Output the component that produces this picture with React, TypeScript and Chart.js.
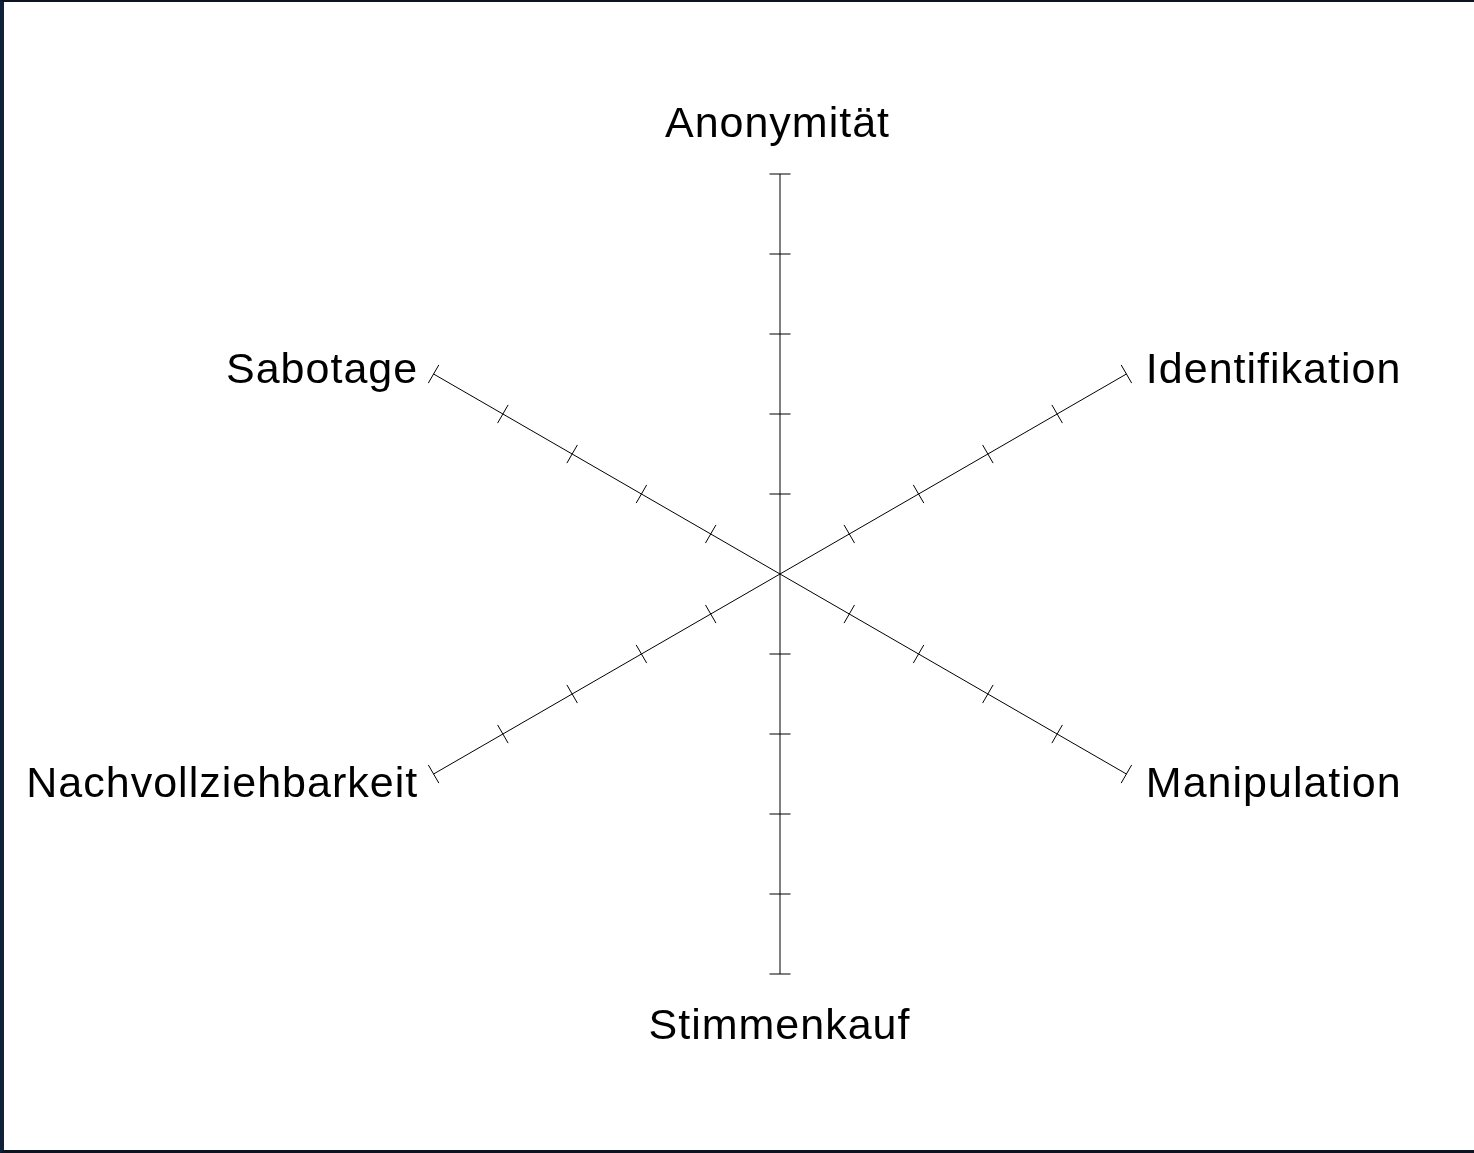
import React, { useEffect, useRef } from "react";
import { Chart, registerables } from "chart.js";

Chart.register(...registerables);

// ---- data ----
const AXIS_LABELS = [
  "Anonymität",
  "Identifikation",
  "Manipulation",
  "Stimmenkauf",
  "Nachvollziehbarkeit",
  "Sabotage",
];
const TICK_VALUES = [1, 2, 3, 4, 5];
const AXIS_MIN = 0;
const AXIS_MAX = 5;
const SERIES_VALUES: number[] = []; // the reference shows no plotted series

// ---- style ----
const W = 1474;
const H = 1153;
const FONT = '43px "Liberation Sans", Arial, Helvetica, sans-serif';
const LETTER_SPACING = 1;
const CAP = 31;
const TICK_HALF = 10.5;

const axisDecorations = {
  id: "axisDecorations",
  afterDraw(chart: any) {
    const scale = chart.scales.r;
    const ctx = chart.ctx as CanvasRenderingContext2D;
    ctx.save();
    ctx.strokeStyle = "#000";
    ctx.lineWidth = 1;
    AXIS_LABELS.forEach((_, i) => {
      const a = scale.getIndexAngle(i) - Math.PI / 2;
      const px = -Math.sin(a);
      const py = Math.cos(a);
      TICK_VALUES.forEach((v) => {
        const p = scale.getPointPositionForValue(i, v);
        ctx.beginPath();
        ctx.moveTo(p.x - px * TICK_HALF, p.y - py * TICK_HALF);
        ctx.lineTo(p.x + px * TICK_HALF, p.y + py * TICK_HALF);
        ctx.stroke();
      });
    });

    ctx.fillStyle = "#000";
    ctx.font = FONT;
    (ctx as any).letterSpacing = LETTER_SPACING + "px";
    ctx.textBaseline = "alphabetic";
    const R = scale.drawingArea;
    AXIS_LABELS.forEach((label, i) => {
      const a = scale.getIndexAngle(i) - Math.PI / 2;
      const c = Math.cos(a);
      const s = Math.sin(a);
      if (Math.abs(c) < 0.01) {
        ctx.textAlign = "center";
        if (s < 0) {
          const p = scale.getPointPosition(i, R + 37);
          ctx.fillText(label, p.x - 3 + LETTER_SPACING / 2, p.y);
        } else {
          const p = scale.getPointPosition(i, R + 34);
          ctx.fillText(label, p.x - 1 + LETTER_SPACING / 2, p.y + CAP);
        }
      } else {
        const px = scale.getPointPosition(i, R + 19).x;
        const py = scale.getPointPosition(i, R + 14).y;
        if (c > 0) {
          ctx.textAlign = "left";
          ctx.fillText(label, px + 3, py + CAP / 2);
        } else {
          ctx.textAlign = "right";
          ctx.fillText(label, px + LETTER_SPACING, py + CAP / 2);
        }
      }
    });
    ctx.restore();
  },
};

export default function App() {
  const canvasRef = useRef<HTMLCanvasElement | null>(null);

  useEffect(() => {
    const canvas = canvasRef.current;
    if (!canvas) return;
    const chart = new Chart(canvas, {
      type: "radar",
      data: {
        labels: AXIS_LABELS,
        datasets: SERIES_VALUES.length
          ? [{ label: "", data: SERIES_VALUES, borderColor: "#000", backgroundColor: "transparent" }]
          : [],
      },
      options: {
        responsive: false,
        animation: false,
        devicePixelRatio: 1,
        layout: { padding: { left: 380, right: 294, top: 174, bottom: 179 } },
        plugins: { legend: { display: false }, tooltip: { enabled: false } },
        scales: {
          r: {
            min: AXIS_MIN,
            max: AXIS_MAX,
            ticks: { display: false, stepSize: 1 },
            grid: { display: false },
            angleLines: { display: true, color: "#000", lineWidth: 1 },
            pointLabels: { display: false },
          },
        },
      },
      plugins: [axisDecorations],
    } as any);
    return () => chart.destroy();
  }, []);

  return (
    <div
      style={{
        position: "fixed",
        left: 0,
        top: 0,
        width: W,
        height: H,
        background: "#fff",
      }}
    >
      <canvas
        ref={canvasRef}
        width={W}
        height={H}
        style={{ position: "absolute", left: 0, top: 0, width: W, height: H }}
      />
      <div
        style={{
          position: "absolute",
          left: 0,
          top: 0,
          width: W,
          height: H,
          boxSizing: "border-box",
          borderTop: "2px solid #0b1420",
          borderLeft: "4px solid #10213a",
          borderBottom: "3px solid #0b1420",
          pointerEvents: "none",
        }}
      />
    </div>
  );
}
